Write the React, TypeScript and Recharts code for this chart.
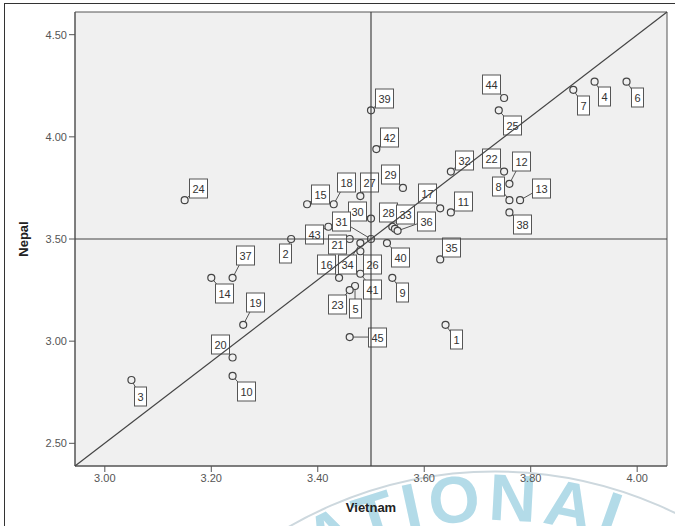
import React from 'react';
import {
  ScatterChart,
  Scatter,
  XAxis,
  YAxis,
  ReferenceLine,
  ReferenceArea,
  Label
} from 'recharts';

// case numbers and the two country scores
const ids = [
  1, 2, 3, 4, 5, 6, 7, 8, 9, 10, 11, 12, 13, 14, 15, 16, 17, 18, 19, 20, 21, 22, 23,
  24, 25, 26, 27, 28, 29, 30, 31, 32, 33, 34, 35, 36, 37, 38, 39, 40, 41, 42, 43, 44, 45
];
const vietnam = [
  3.64, 3.35, 3.05, 3.92, 3.47, 3.98, 3.88, 3.76, 3.54, 3.24, 3.65, 3.76, 3.78, 3.2, 3.38,
  3.44, 3.63, 3.43, 3.26, 3.24, 3.46, 3.75, 3.46, 3.15, 3.74, 3.48, 3.48, 3.54, 3.56, 3.5,
  3.5, 3.65, 3.545, 3.48, 3.63, 3.55, 3.24, 3.76, 3.5, 3.53, 3.48, 3.51, 3.42, 3.75, 3.46
];
const nepal = [
  3.08, 3.5, 2.81, 4.27, 3.27, 4.27, 4.23, 3.69, 3.31, 2.83, 3.63, 3.77, 3.69, 3.31, 3.67,
  3.31, 3.65, 3.67, 3.08, 2.92, 3.5, 3.83, 3.25, 3.69, 4.13, 3.44, 3.71, 3.56, 3.75, 3.6,
  3.5, 3.83, 3.55, 3.48, 3.4, 3.54, 3.31, 3.63, 4.13, 3.48, 3.33, 3.94, 3.56, 4.19, 3.02
];
const xTicks = [3.0, 3.2, 3.4, 3.6, 3.8, 4.0];
const yTicks = [2.5, 3.0, 3.5, 4.0, 4.5];

// where each case label box sits relative to its point (px)
const labelDx = [
  10, -6, 9, 9, 0, 10, 10, -11, 10, 13, 12, 12, 21, 13, 13, -13, -13, 12, 12, -13, -13, -13,
  -13, 13, 13, 12, 9, -4, -13, -14, -30, 13, 10, -13, 11, 28, 12, 13, 13, 13, 12, 13, -14, -13, 27
];
const labelDy = [
  14, 14, 16, 14, 22, 15, 15, -14, 14, 15, -11, -23, -12, 15, -10, -14, -15, -22, -23, -14, 5,
  -14, 14, -12, 15, 13, -14, -15, -14, -8, -18, -12, -15, 21, -12, -10, -23, 12, -12, 14, 15,
  -12, 7, -14, 0
];

const XMIN = 2.944;
const XMAX = 4.056;
const YMIN = 2.389;
const YMAX = 4.611;

const points = ids.map((id, i) => ({
  id,
  vietnam: vietnam[i],
  nepal: nepal[i],
  dx: labelDx[i],
  dy: labelDy[i]
}));

const FONT = "Arial, 'Liberation Sans', sans-serif";

const PointShape = (props: any) => {
  const { cx, cy, payload } = props;
  return (
    <g>
      <line x1={cx} y1={cy} x2={cx + payload.dx} y2={cy + payload.dy} stroke="#555" strokeWidth={1} />
      <circle cx={cx} cy={cy} r={3.5} fill="#f0f0f0" stroke="#444" strokeWidth={1.2} />
    </g>
  );
};

const LabelShape = (props: any) => {
  const { cx, cy, payload } = props;
  const w = String(payload.id).length > 1 ? 18 : 12;
  const h = 19;
  const bx = Math.round(cx + payload.dx) + 0.5;
  const by = Math.round(cy + payload.dy) + 0.5;
  return (
    <g>
      <rect x={bx - w / 2} y={by - h / 2} width={w} height={h} fill="#fff" stroke="#555" strokeWidth={1} />
      <text x={bx} y={by + 4} textAnchor="middle" fontSize={11} fontFamily={FONT} fill="#333">
        {payload.id}
      </text>
    </g>
  );
};

// faint stamp that sits behind the bottom of the screenshot
const Watermark = () => (
  <svg width={675} height={526} style={{ position: 'absolute', left: 0, top: 0 }}>
    <defs>
      <path id="wm-arc" d="M 180.6 702 A 363 363 0 0 1 809.4 702" />
    </defs>
    <path d="M 203.7 592.2 A 412 412 0 0 1 786.3 592.2" fill="none" stroke="#cdd8de" strokeWidth={2} />
    <text fontSize={66} fontWeight="bold" fontFamily={FONT} fill="#b3dbe8" letterSpacing={6}>
      <textPath href="#wm-arc" startOffset="44%" textAnchor="middle">
        NATIONAL
      </textPath>
    </text>
  </svg>
);

export default function App() {
  return (
    <div style={{ position: 'absolute', left: 0, top: 0, width: 675, height: 526, background: '#fff', overflow: 'hidden' }}>
      <Watermark />
      <div
        style={{
          position: 'absolute',
          left: 4,
          top: 3,
          width: 675,
          height: 526,
          borderLeft: '1px solid #333',
          borderTop: '1px solid #333'
        }}
      />
      <div style={{ position: 'absolute', left: 0, top: 0 }}>
        <ScatterChart width={675} height={526} margin={{ top: 12, right: 8, bottom: 30, left: 15 }}>
          <XAxis
            type="number"
            dataKey="vietnam"
            domain={[XMIN, XMAX]}
            ticks={xTicks}
            tickFormatter={(v: number) => v.toFixed(2)}
            height={30}
            tickSize={6}
            stroke="#555"
            tick={{ fill: '#555', fontSize: 11, fontFamily: FONT }}
            allowDataOverflow
          >
            <Label
              content={() => (
                <text x={371} y={512} textAnchor="middle" fontSize={13} fontWeight="bold" fontFamily={FONT} fill="#222">
                  Vietnam
                </text>
              )}
            />
          </XAxis>
          <YAxis
            type="number"
            dataKey="nepal"
            domain={[YMIN, YMAX]}
            ticks={yTicks}
            tickFormatter={(v: number) => v.toFixed(2)}
            width={60}
            tickSize={6}
            stroke="#555"
            tick={{ fill: '#555', fontSize: 11, fontFamily: FONT }}
            allowDataOverflow
          >
            <Label
              content={() => (
                <text
                  x={28}
                  y={239}
                  transform="rotate(-90 28 239)"
                  textAnchor="middle"
                  fontSize={13}
                  fontWeight="bold"
                  fontFamily={FONT}
                  fill="#222"
                >
                  Nepal
                </text>
              )}
            />
          </YAxis>
          <ReferenceArea x1={XMIN} x2={XMAX} y1={YMIN} y2={YMAX} fill="#f0f0f0" fillOpacity={1} stroke="#555" />
          <Scatter data={points} shape={<PointShape />} isAnimationActive={false} />
          <Scatter data={points} shape={<LabelShape />} isAnimationActive={false} />
          <ReferenceLine x={3.5} stroke="#444" strokeWidth={1.2} zIndex={1000} />
          <ReferenceLine y={3.5} stroke="#444" strokeWidth={1.2} zIndex={1000} />
          <ReferenceLine
            segment={[
              { x: XMIN, y: YMIN },
              { x: XMAX, y: YMAX }
            ]}
            stroke="#444"
            strokeWidth={1.2}
            zIndex={1000}
          />
        </ScatterChart>
      </div>
    </div>
  );
}
